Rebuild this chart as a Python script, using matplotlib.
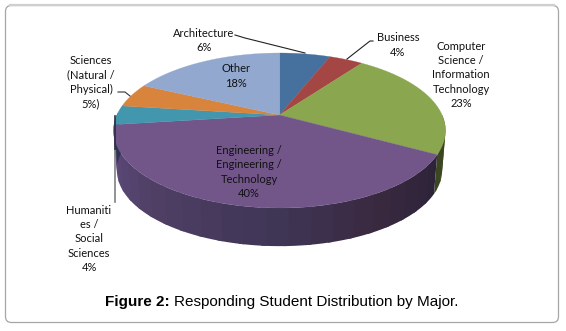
import numpy as np
import matplotlib
matplotlib.use("Agg")
from matplotlib import pyplot as plt
from matplotlib.patches import FancyBboxPatch, Polygon

majors = ["Architecture", "Business", "Computer Science / Information Technology",
          "Engineering / Engineering / Technology", "Humanities / Social Sciences",
          "Sciences (Natural / Physical)", "Other"]
shares = [6, 4, 23, 40, 4, 5, 18]
top_colors = ["#46719f", "#a44643", "#8aa64f", "#72568a", "#4296ae", "#d9843d", "#93a8cf"]
side_colors = ["#2f4665", "#632a28", "#3c4722", "#45365c", "#2b3550", "#824f24", "#586580"]

# purple wall gets lighter going round to the left
wall_t = [118, 150, 180, 215, 262]
wall_colors = ["#2b2338", "#39293f", "#3f3555", "#4d3e63", "#5f4b7c"]

labels = ["Architecture\n6%", "Business\n4%", "Computer\nScience /\nInformation\nTechnology\n23%",
          "Engineering /\nEngineering /\nTechnology\n40%", "Humaniti\nes /\nSocial\nSciences\n4%",
          "Sciences\n(Natural /\nPhysical)\n5%)", "Other\n18%"]
label_x = [204, 398, 461, 249, 89, 91, 236]
label_y = [40.5, 45, 75, 172, 239, 82, 76]

CX, CY = 279.5, 115
B, A, K = 162.6, 74.4, 0.2
DEPTH = 40
SHRINK = 0.98


# tilted circle, t is degrees clockwise from 12 o'clock
def rim(t, low=False):
    t = np.radians(t)
    w = 1 + K * np.cos(t)
    x = B * np.sin(t) / w
    y = A * np.cos(t) / w
    if low:
        return CX + SHRINK * x, CY + DEPTH - SHRINK * y
    return CX + x, CY - y


def wall_color(i, t):
    if i != 3:
        return side_colors[i]
    rgb = matplotlib.colors.to_rgb
    stops = np.array([rgb(c) for c in wall_colors])
    return tuple(np.interp(t, wall_t, stops[:, k]) for k in range(3))


fig = plt.figure(figsize=(5.66, 3.31), dpi=100)
ax = fig.add_axes([0, 0, 1, 1])
ax.set_xlim(0, 566)
ax.set_ylim(331, 0)
ax.axis("off")

ax.add_patch(FancyBboxPatch((5.5, 5.5), 553, 317, boxstyle="round,pad=0,rounding_size=6",
                            fc="white", ec="#a6a6a6", lw=0.9, zorder=0))
ax.plot([10, 554], [5, 5], color="#cfcfcf", lw=1.6, zorder=1)

edges = np.cumsum([0] + shares) * 3.6

# side wall, only the front half shows. facets overlap so no seams
for i in range(len(shares)):
    a, b = max(edges[i], 90), min(edges[i + 1], 272)
    if a >= b:
        continue
    steps = np.arange(a, b + 6.5, 6.5)
    steps[-1] = b
    for t0, t1 in zip(steps[:-1], steps[1:]):
        ts = np.linspace(t0, min(t1 + 1.5, b), 6)
        x1, y1 = rim(ts)
        x2, y2 = rim(ts[::-1], low=True)
        ax.add_patch(Polygon(np.c_[np.r_[x1, x2], np.r_[y1, y2]], fc=wall_color(i, (t0 + t1) / 2),
                             ec="none", zorder=2))

# top face
for i in range(len(shares)):
    ts = np.linspace(edges[i], edges[i + 1], 60)
    x, y = rim(ts)
    pts = np.c_[np.r_[CX, x], np.r_[CY, y]]
    ax.add_patch(Polygon(pts, fc=top_colors[i], ec=top_colors[i], lw=0.2, zorder=3))

# leader lines
ax.plot([235, 245, 283, 305], [35, 38, 47.5, 53], color="#222222", lw=0.8, zorder=4)
ax.plot([373, 370, 347], [41, 41, 59], color="#222222", lw=0.8, zorder=4)
ax.plot([118, 125, 130], [92, 92, 96], color="#333333", lw=0.8, zorder=4)
ax.plot([115, 115], [149, 202], color="#808080", lw=1.2, zorder=4)
ax.plot([115, 115], [116, 149], color="#2b2b45", lw=1.2, zorder=4)

for txt, x, y in zip(labels, label_x, label_y):
    ax.text(x, y, txt, ha="center", va="center", fontsize=8.0, family="Lato",
            color="#111111", linespacing=1.36, zorder=5)

cap1 = ax.text(105, 302, "Figure 2:", ha="left", va="center", fontsize=11,
               family="Liberation Sans", weight="bold", color="black")
fig.canvas.draw()
end = cap1.get_window_extent().x1
ax.text(end + 4, 302, "Responding Student Distribution by Major.", ha="left", va="center",
        fontsize=11, family="Liberation Sans", color="black")

fig.savefig("out.png", dpi=100)
